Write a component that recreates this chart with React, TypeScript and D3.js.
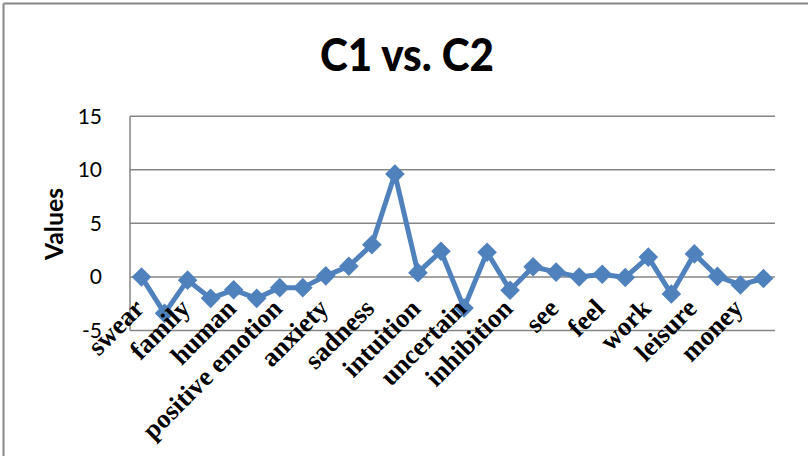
import React from "react";
import * as d3 from "d3";

const categories = [
  "swear", "social", "family", "friend", "human", "affect",
  "positive emotion", "negative emotion", "anxiety", "anger", "sadness", "cognitive",
  "intuition", "cause", "uncertain", "certain", "inhibition", "perceptual",
  "see", "hear", "feel", "body", "work", "achieve", "leisure", "home",
  "money", "religion",
];

const values = [
  0.0, -3.4, -0.3, -2.0, -1.2, -2.0,
  -1.0, -1.0, 0.1, 1.0, 3.0, 9.6,
  0.4, 2.4, -2.9, 2.3, -1.25, 0.95,
  0.45, 0.0, 0.25, -0.05, 1.85, -1.6, 2.15, 0.05,
  -0.75, -0.15,
];

const yTicks = [-5, 0, 5, 10, 15];

const W = 808;
const H = 456;
const left = 130;
const right = 775;
const top = 116.2;
const bottom = 330.5;

const BLUE = "#4F81BD";
const GRID = "#868686";

export default function App() {
  const x = d3.scaleBand<string>().domain(categories).range([left, right]);
  const y = d3.scaleLinear().domain([-5, 15]).range([bottom, top]);
  const cx = (c: string) => (x(c) as number) + x.bandwidth() / 2;

  const line = d3
    .line<number>()
    .x((_, i) => cx(categories[i]))
    .y((d) => y(d));

  const diamond = (px: number, py: number, r: number) =>
    `M${px},${py - r}L${px + r},${py}L${px},${py + r}L${px - r},${py}Z`;

  return (
    <svg
      width={W}
      height={H}
      style={{ position: "absolute", left: 0, top: 0, background: "#fff" }}
    >
      {/* outer chart border (top & left visible) */}
      <line x1={3.5} y1={3.5} x2={W} y2={3.5} stroke={GRID} strokeWidth={2} />
      <line x1={3.5} y1={3.5} x2={3.5} y2={H} stroke={GRID} strokeWidth={2} />

      {/* title */}
      <text
        x={407}
        y={71}
        textAnchor="middle"
        fontFamily="Lato, sans-serif"
        fontWeight={900}
        fontSize={46}
        textLength={174}
        lengthAdjust="spacingAndGlyphs"
        fill="#000"
      >
        C1 vs. C2
      </text>

      {/* gridlines */}
      {yTicks.map((t) => (
        <line
          key={t}
          x1={left}
          x2={right}
          y1={y(t)}
          y2={y(t)}
          stroke={GRID}
          strokeWidth={1.5}
        />
      ))}
      {/* y axis line */}
      <line x1={left} x2={left} y1={top} y2={bottom} stroke={GRID} strokeWidth={1.5} />

      {/* y tick labels */}
      {yTicks.map((t) => (
        <text
          key={t}
          x={102}
          y={y(t)}
          dy="0.36em"
          textAnchor="end"
          fontFamily="Lato, sans-serif"
          fontSize={21}
          fill="#000"
        >
          {t}
        </text>
      ))}

      {/* y axis title */}
      <text
        transform={`translate(63,224) rotate(-90)`}
        textAnchor="middle"
        fontFamily="Lato, sans-serif"
        fontWeight={700}
        fontSize={24}
        textLength={72}
        lengthAdjust="spacingAndGlyphs"
        fill="#000"
      >
        Values
      </text>

      {/* series line */}
      <path d={line(values) || ""} fill="none" stroke={BLUE} strokeWidth={5} strokeLinejoin="round" />
      {values.map((v, i) => (
        <path key={i} d={diamond(cx(categories[i]), y(v), 9.8)} fill={BLUE} />
      ))}

      {/* x labels (every other) */}
      {categories.map((c, i) =>
        i % 2 === 0 ? (
          <text
            key={c}
            transform={`translate(${cx(c) + 4},${310}) rotate(-45)`}
            textAnchor="end"
            fontFamily="'Liberation Serif', 'Times New Roman', serif"
            fontWeight={700}
            fontSize={26.5}
            fill="#000"
          >
            {c}
          </text>
        ) : null
      )}
    </svg>
  );
}
